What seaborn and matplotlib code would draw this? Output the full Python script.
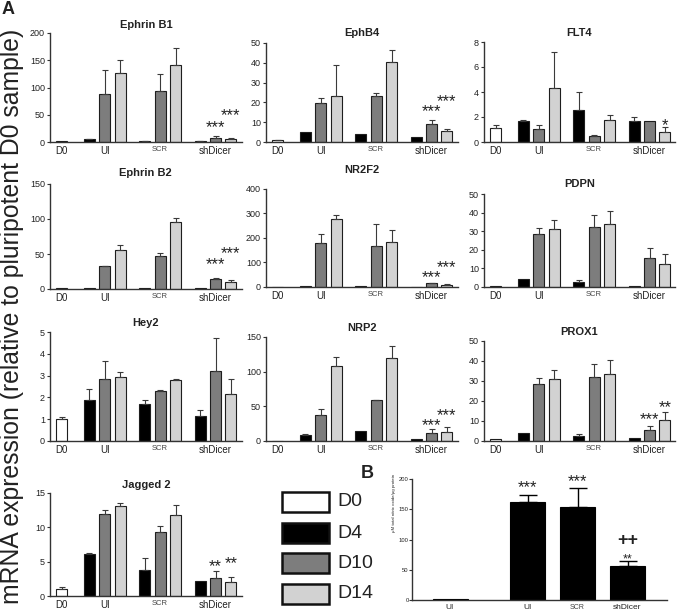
import numpy as np
import pandas as pd
import matplotlib
matplotlib.use("Agg")
import matplotlib.pyplot as plt
from matplotlib.patches import Rectangle
import seaborn as sns

sns.set_style("ticks")
plt.rcParams['font.family'] = ['Liberation Sans', 'DejaVu Sans']

# ---------------- data ----------------
DAYS = ["D0", "D4", "D10", "D14"]
GROUPS = ["D0", "UI", "SCR", "shDicer"]
BAR_GROUP = ["D0", "UI", "UI", "UI", "SCR", "SCR", "SCR", "shDicer", "shDicer", "shDicer"]
BAR_DAY = ["D0", "D4", "D10", "D14", "D4", "D10", "D14", "D4", "D10", "D14"]

ephrinb1_mean = [1, 5, 88, 126, 2, 94, 142, 2, 8, 6]
ephrinb1_err = [0, 1, 44, 25, 0.5, 31, 31, 0.5, 3, 1]
ephrinb1_stars = [("shDicer", "D10", "***", 31), ("shDicer", "D14", "***", 52)]

ephb4_mean = [1, 5.3, 19.8, 23.2, 4.2, 23.2, 40.5, 2.4, 9.3, 5.8]
ephb4_err = [0.2, 0, 2.6, 15.5, 0, 1.5, 6, 0, 1.7, 0.9]
ephb4_stars = [("shDicer", "D10", "***", 16.4), ("shDicer", "D14", "***", 21.7)]

flt4_mean = [1.13, 1.69, 1.07, 4.3, 2.55, 0.46, 1.74, 1.69, 1.72, 0.8]
flt4_err = [0.21, 0.05, 0.33, 2.9, 1.42, 0.08, 0.41, 0.31, 0.0, 0.38]
flt4_stars = [("shDicer", "D14", "*", 1.5)]

ephrinb2_mean = [1, 2, 33, 56, 1.5, 47, 95, 1.5, 14, 9.5]
ephrinb2_err = [0, 0, 0.5, 7, 0, 4, 6, 0, 2, 3]
ephrinb2_stars = [("shDicer", "D10", "***", 38.6), ("shDicer", "D14", "***", 54)]

nr2f2_mean = [1, 4, 181, 276, 4, 169, 185, 2, 15, 10]
nr2f2_err = [0, 0, 35, 18, 0, 88, 46, 0, 3, 2]
nr2f2_stars = [("shDicer", "D10", "***", 49), ("shDicer", "D14", "***", 88)]

pdpn_mean = [0.8, 4.1, 28.7, 31, 2.5, 32.3, 34, 0.5, 15.6, 12.2]
pdpn_err = [0, 0, 3, 5, 1.3, 6.2, 6.9, 0, 5.4, 5.7]
pdpn_stars = []

hey2_mean = [1.02, 1.87, 2.83, 2.93, 1.71, 2.29, 2.81, 1.15, 3.21, 2.16]
hey2_err = [0.08, 0.53, 0.82, 0.23, 0.17, 0.03, 0.03, 0.25, 1.53, 0.68]
hey2_stars = []

nrp2_mean = [0.5, 9, 38, 108, 14.4, 58.6, 119, 3, 12, 13]
nrp2_err = [0, 1.5, 8.6, 13, 0, 1, 17.5, 0, 5.8, 7]
nrp2_stars = [("shDicer", "D10", "***", 25), ("shDicer", "D14", "***", 40)]

prox1_mean = [0.8, 4, 28.7, 31, 2.3, 32, 33.7, 1.5, 5.7, 10.3]
prox1_err = [0, 0, 3, 4.7, 1.4, 6.7, 7, 0, 1.6, 4.2]
prox1_stars = [("shDicer", "D10", "***", 12), ("shDicer", "D14", "**", 17.8)]

jagged2_mean = [0.98, 6.15, 11.95, 13.07, 3.8, 9.27, 11.85, 2.24, 2.68, 2.1]
jagged2_err = [0.39, 0.1, 0.55, 0.49, 1.7, 0.97, 1.35, 0, 0.98, 0.6]
jagged2_stars = [("shDicer", "D10", "**", 4.6), ("shDicer", "D14", "**", 5.0)]

b_labels = ["UI", "UI", "SCR", "shDicer"]
b_mean = [1, 161.5, 153, 56]
b_err = [0, 12.5, 32, 8.5]
b_stars = [(1, "***", 190, False), (2, "***", 200, False), (3, "**", 71, False), (3, "++", 100, True)]

PALETTE = {"D0": "#ffffff", "D4": "#000000", "D10": "#7d7d7d", "D14": "#d2d2d2"}
TXT = "#222222"
EDGE = "#1e1e1e"

# ---------------- layout helpers ----------------
W, H = 678, 613
fig = plt.figure(figsize=(W / 100, H / 100), dpi=100)


def add_axes_px(left, right, top, bottom):
    return fig.add_axes([left / W, 1 - bottom / H, (right - left) / W, (bottom - top) / H])


GROUP_START = {"D0": 0.0, "UI": 1.8, "SCR": 5.4, "shDicer": 9.0}
POS = []
_cnt = {}
for g in BAR_GROUP:
    k = _cnt.get(g, 0)
    POS.append(GROUP_START[g] + k)
    _cnt[g] = k + 1
TICK_POS = [GROUP_START["D0"], GROUP_START["UI"] + 1, GROUP_START["SCR"] + 1, GROUP_START["shDicer"] + 1]
XLIM = (-0.75, 11.7)
PPU = 15.4
COL_LEFT = [50, 266, 484]


def style_axes(ax):
    sns.despine(ax=ax)
    for s in ("left", "bottom"):
        ax.spines[s].set_linewidth(1.0)
        ax.spines[s].set_color("#333333")
    ax.tick_params(axis="y", length=2.5, width=0.8, pad=1.2, labelsize=6.5, colors="#333333", labelcolor=TXT)
    ax.tick_params(axis="x", length=0, pad=3, labelsize=7, labelcolor=TXT)
    ax.set_xlabel("")
    ax.set_ylabel("")


def star(ax, x, y, text, fs=12, bold=False):
    off = -0.40 * fs if not bold else -0.33 * fs
    ax.annotate(text, xy=(x, y), xytext=(0, off), textcoords="offset points",
                ha="center", va="baseline", fontsize=fs, color=TXT,
                fontweight="bold" if bold else "normal")


def draw_panel(title, mean, err, yticks, stars, col, top, bottom, title_y):
    left = COL_LEFT[col]
    right = min(left + (XLIM[1] - XLIM[0]) * PPU, 675)
    ax = add_axes_px(left, right, top, bottom)
    df = pd.DataFrame({"pos": POS, "value": mean, "day": BAR_DAY})
    sns.barplot(data=df, x="pos", y="value", hue="day", hue_order=DAYS, palette=PALETTE,
                native_scale=True, dodge=False, width=0.72, saturation=1,
                edgecolor=EDGE, linewidth=0.8, errorbar=None, legend=False, ax=ax)
    m = np.asarray(mean, float)
    e = np.asarray(err, float)
    p = np.asarray(POS, float)
    mk = e > 0
    ax.errorbar(p[mk], m[mk], yerr=[np.zeros(mk.sum()), e[mk]], fmt="none",
                ecolor="#3a3a3a", elinewidth=0.8, capsize=2.2, capthick=0.8, zorder=3)
    ax.set_xlim(XLIM[0], XLIM[0] + (right - left) / PPU)
    ax.set_ylim(0, yticks[-1])
    ax.set_yticks(yticks)
    ax.set_yticklabels([str(t) for t in yticks])
    ax.set_xticks(TICK_POS)
    ax.set_xticklabels(GROUPS)
    style_axes(ax)
    for lab in ax.get_xticklabels():
        if lab.get_text() == "SCR":
            lab.set_fontsize(5.5)
            lab.set_color("#444444")
    for g, d, txt, yv in stars:
        idx = [i for i in range(len(BAR_GROUP)) if BAR_GROUP[i] == g and BAR_DAY[i] == d][0]
        star(ax, POS[idx], yv, txt)
    fig.text((left + right) / 2 / W, 1 - title_y / H, title, ha="center", va="center",
             fontsize=8, fontweight="bold", color=TXT)
    return ax


draw_panel("Ephrin B1", ephrinb1_mean, ephrinb1_err, [0, 50, 100, 150, 200], ephrinb1_stars, 0, 33, 142, 25)
draw_panel("EphB4", ephb4_mean, ephb4_err, [0, 10, 20, 30, 40, 50], ephb4_stars, 1, 43, 142, 33)
draw_panel("FLT4", flt4_mean, flt4_err, [0, 2, 4, 6, 8], flt4_stars, 2, 42, 142, 33)
draw_panel("Ephrin B2", ephrinb2_mean, ephrinb2_err, [0, 50, 100, 150], ephrinb2_stars, 0, 184, 289, 173)
draw_panel("NR2F2", nr2f2_mean, nr2f2_err, [0, 100, 200, 300, 400], nr2f2_stars, 1, 189, 287, 170)
draw_panel("PDPN", pdpn_mean, pdpn_err, [0, 10, 20, 30, 40, 50], pdpn_stars, 2, 194, 287, 184)
draw_panel("Hey2", hey2_mean, hey2_err, [0, 1, 2, 3, 4, 5], hey2_stars, 0, 332, 441, 323)
draw_panel("NRP2", nrp2_mean, nrp2_err, [0, 50, 100, 150], nrp2_stars, 1, 337, 441, 328)
draw_panel("PROX1", prox1_mean, prox1_err, [0, 10, 20, 30, 40, 50], prox1_stars, 2, 341, 441, 332)
draw_panel("Jagged 2", jagged2_mean, jagged2_err, [0, 5, 10, 15], jagged2_stars, 0, 493, 596, 485)

# ---------------- panel B ----------------
axb = add_axes_px(412, 667, 479, 600)
B_POS = [0.0, 1.55, 2.55, 3.55]
dfb = pd.DataFrame({"pos": B_POS, "value": b_mean})
sns.barplot(data=dfb, x="pos", y="value", native_scale=True, width=0.7, color="#000000",
            saturation=1, edgecolor="#000000", linewidth=0.8, errorbar=None, ax=axb)
bm = np.asarray(b_mean, float)
be = np.asarray(b_err, float)
bp = np.asarray(B_POS)
mk = be > 0
axb.errorbar(bp[mk], bm[mk], yerr=[np.zeros(mk.sum()), be[mk]], fmt="none",
             ecolor="#000000", elinewidth=1.0, capsize=6.5, capthick=1.0, zorder=3)
axb.set_xlim(-0.76, 4.34)
axb.set_ylim(0, 200)
axb.set_yticks([0, 50, 100, 150, 200])
axb.set_xticks(B_POS)
axb.set_xticklabels(b_labels)
style_axes(axb)
axb.tick_params(axis="y", labelsize=4.2, length=2.0, pad=0.5)
axb.tick_params(axis="x", labelsize=6)
for lab in axb.get_xticklabels():
    if lab.get_text() == "SCR":
        lab.set_fontsize(5)
        lab.set_color("#444444")
for i, txt, yv, bold in b_stars:
    star(axb, B_POS[i], yv, txt, fs=13 if bold else (12 if txt == "***" else 9), bold=bold)
fig.text(394 / W, 1 - 503 / H, "\u03bcM total nitric oxide/\u03bcg protein", rotation=90,
         ha="center", va="center", fontsize=3.2, color=TXT)

# ---------------- legend ----------------
leg_rows = [(502, "D0"), (533, "D4"), (563, "D10"), (594, "D14")]
for yc, d in leg_rows:
    fig.add_artist(Rectangle(((282) / W, 1 - (yc + 10) / H), 47 / W, 20 / H,
                             transform=fig.transFigure, facecolor=PALETTE[d],
                             edgecolor="#111111", linewidth=1.8))
    fig.text(337 / W, 1 - yc / H, d, ha="left", va="center", fontsize=14, color=TXT)

# ---------------- labels ----------------
fig.text(12 / W, 1 - 316 / H, "mRNA expression (relative to pluripotent D0 sample)",
         rotation=90, ha="center", va="center", fontsize=17.8, color=TXT)
fig.text(8 / W, 1 - 9 / H, "A", ha="center", va="center", fontsize=13, fontweight="bold", color=TXT)
fig.text(367 / W, 1 - 473 / H, "B", ha="center", va="center", fontsize=13, fontweight="bold", color=TXT)

fig.savefig("out.png", dpi=100)
